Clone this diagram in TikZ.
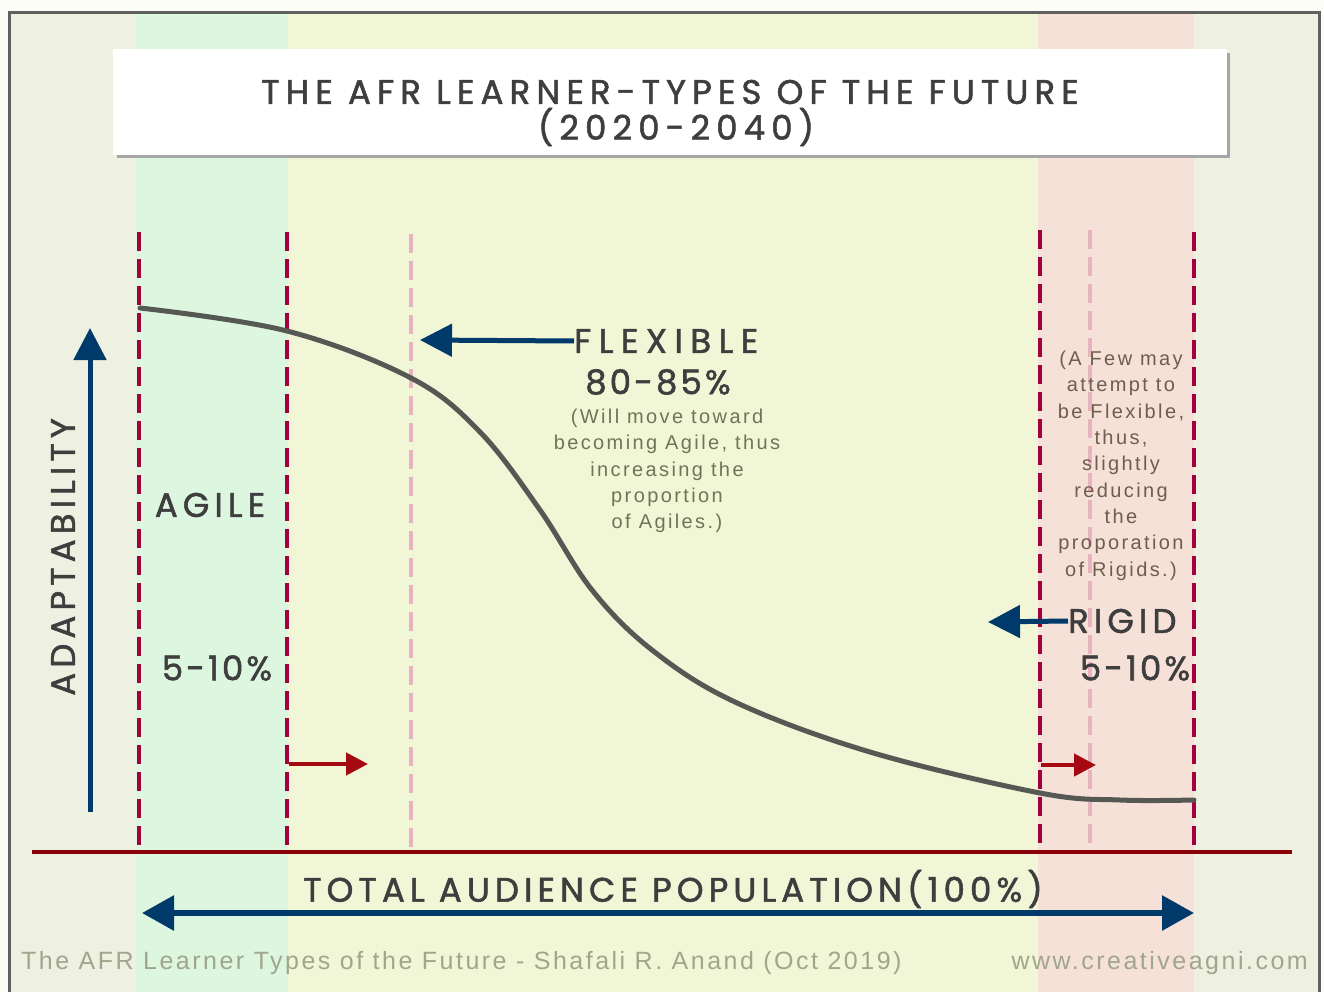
\documentclass[tikz,border=0pt]{standalone}
\usepackage{fontspec}
\usetikzlibrary{arrows.meta}
% heading faces with different tracking
\newfontfamily\headA[LetterSpace=18,FakeBold=1.6]{Poppins}
\newfontfamily\headB[LetterSpace=15,FakeBold=1.6]{Poppins}
\newfontfamily\headC[LetterSpace=22,FakeBold=1.6]{Poppins}
\newfontfamily\headD[LetterSpace=9,FakeBold=1.6]{Poppins}
\newfontfamily\notefont[LetterSpace=12]{Liberation Sans}
\newfontfamily\footfont[LetterSpace=10]{Liberation Sans}
\definecolor{frame}{HTML}{606060}
\definecolor{outerbg}{HTML}{FDFDF8}
\definecolor{sidebg}{HTML}{EEF0E2}
\definecolor{agilebg}{HTML}{DCF6E0}
\definecolor{flexbg}{HTML}{F1F6D6}
\definecolor{rigidbg}{HTML}{F6E1D9}
\definecolor{crimson}{HTML}{A3003D}
\definecolor{softpink}{HTML}{E6B3BE}
\definecolor{navy}{HTML}{003A6A}
\definecolor{curvegray}{HTML}{555853}
\definecolor{basered}{HTML}{8A0008}
\definecolor{arrowred}{HTML}{A50A12}
\definecolor{headtext}{HTML}{3E3E3E}
\definecolor{flexnote}{HTML}{6E7556}
\definecolor{rigidnote}{HTML}{6E5E4E}
\definecolor{foot}{HTML}{A0A68C}
\tikzset{
  divider/.style={crimson,line width=4.5pt,dash pattern=on 19pt off 8pt},
  softdivider/.style={softpink,line width=3.5pt,dash pattern=on 19pt off 8pt},
  heading/.style={text=headtext,inner sep=0pt},
  hsize/.style={font=#1\fontsize{34}{38}\selectfont},
  note/.style={font=\notefont\fontsize{20}{26.3}\selectfont,align=center,inner sep=0pt},
  footnote/.style={font=\footfont\fontsize{25}{27}\selectfont,text=foot,inner sep=0pt},
  bluearrow/.style={navy,line width=5pt,-{Triangle[length=32pt,width=32pt]}},
  redarrow/.style={arrowred,line width=4.5pt,-{Triangle[length=22pt,width=22pt]}},
}
\begin{document}
\begin{tikzpicture}[x=1pt,y=-1pt]
\useasboundingbox (0,0) rectangle (1324,992);
\fill[outerbg] (0,0) rectangle (1324,992);
% coloured bands
\fill[sidebg] (10,14) rectangle (1318,992);
\fill[agilebg] (136,14) rectangle (288,992);
\fill[flexbg] (288,14) rectangle (1038,992);
\fill[rigidbg] (1038,14) rectangle (1194,992);
\draw[frame,line width=3pt] (9,1000) -- (9,13) -- (1319,13) -- (1319,1000);
% title panel
\fill[gray!70] (117,53) rectangle (1230,158);
\node[fill=white,minimum width=1114pt,minimum height=106pt,inner sep=0pt] (title) at (670,102) {};
\node[heading,hsize=\headA] (t1) at (670,92) {THE AFR LEARNER-TYPES OF THE FUTURE};
\node[heading,hsize=\headA] (t2) at (676,127) {(2020-2040)};
% dividers
\coordinate (a1) at (139,232); \coordinate (a2) at (139,852);
\coordinate (b1) at (287,232); \coordinate (b2) at (287,852);
\coordinate (c1) at (411,234); \coordinate (c2) at (411,852);
\coordinate (d1) at (1040,230); \coordinate (d2) at (1040,852);
\coordinate (e1) at (1090,230); \coordinate (e2) at (1090,852);
\coordinate (f1) at (1194,232); \coordinate (f2) at (1194,852);
\draw[softdivider] (c1) -- (c2);
\draw[softdivider] (e1) -- (e2);
\draw[divider] (a1) -- (a2);
\draw[divider] (b1) -- (b2);
\draw[divider] (d1) -- (d2);
\draw[divider] (f1) -- (f2);
% adaptability curve
\draw[curvegray,line width=5pt,line cap=round] plot[smooth,tension=0.6] coordinates
  {(140,308) (287,331) (411,378) (480,432) (540,510) (592,590) (652,650) (735,702) (870,752) (1040,793) (1120,800) (1194,800)};
% baseline
\coordinate (base1) at (32,852); \coordinate (base2) at (1292,852);
\draw[basered,line width=4pt] (base1) -- (base2);
% adaptability axis
\coordinate (up1) at (90,812); \coordinate (up2) at (90,328);
\draw[bluearrow] (up1) -- (up2);
\node[heading,hsize=\headB,rotate=90] (adapt) at (63,557) {ADAPTABILITY};
% agile
\node[heading,hsize=\headB] (agile) at (210,505) {AGILE};
\node[heading,hsize=\headD] (agilepc) at (217,668) {5-10\%};
% flexible
\node[heading,hsize=\headC,anchor=west] (flex) at (574,341) {FLEXIBLE};
\coordinate (fl) at (420,340);
\draw[bluearrow] (flex.west) -- (fl);
\node[heading,hsize=\headD] (flexpc) at (658,382) {80-85\%};
\node[note,text=flexnote,anchor=north] (flexnote) at (667,409)
  {(Will move toward\\becoming Agile, thus\\increasing the\\proportion\\of Agiles.)};
% rigid
\node[note,text=rigidnote,anchor=north] (rigidnote) at (1121,351)
  {(A Few may\\attempt to\\be Flexible,\\thus,\\slightly\\reducing\\the\\proporation\\of Rigids.)};
\node[heading,hsize=\headB,anchor=west] (rigid) at (1068,621) {RIGID};
\coordinate (rl) at (988,622);
\draw[bluearrow] (rigid.west) -- (rl);
\node[heading,hsize=\headD] (rigidpc) at (1135,668) {5-10\%};
% drift arrows
\coordinate (r1) at (289,764); \coordinate (r2) at (368,764);
\draw[redarrow] (r1) -- (r2);
\coordinate (s1) at (1041,765); \coordinate (s2) at (1096,765);
\draw[redarrow] (s1) -- (s2);
% population axis
\node[heading,hsize=\headB] (total) at (673,889) {TOTAL AUDIENCE POPULATION(100\%)};
\coordinate (p1) at (142,913); \coordinate (p2) at (1194,913);
\draw[navy,line width=6pt,{Triangle[length=32pt,width=34pt]}-{Triangle[length=32pt,width=34pt]}] (p1) -- (p2);
% footer
\node[footnote,anchor=west] (credit) at (21,963)
  {The AFR Learner Types of the Future - Shafali R. Anand (Oct 2019)};
\node[footnote,anchor=east] (site) at (1308,963)
  {www.creativeagni.com};
\end{tikzpicture}
\end{document}
